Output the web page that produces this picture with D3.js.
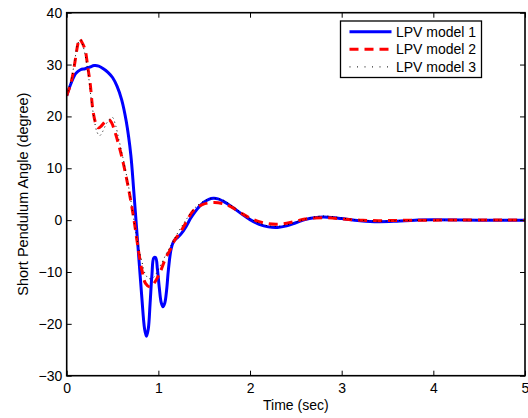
<!DOCTYPE html>
<html>
<head>
<meta charset="utf-8">
<script src="https://cdn.jsdelivr.net/npm/d3@7"></script>
<style>
  body { margin: 0; background: #fff; }
  text { font-family: "Liberation Sans", Arial, sans-serif; }
</style>
</head>
<body>
<svg id="chart" width="528" height="418"></svg>
<script>
// LPV model 1 (blue solid)
const time1 = [0, 0.05, 0.1, 0.15, 0.2, 0.25, 0.3, 0.35, 0.4, 0.45, 0.5, 0.55, 0.6, 0.65, 0.7, 0.73, 0.76, 0.79, 0.82, 0.85, 0.87, 0.89, 0.91, 0.93, 0.95, 0.97, 0.99, 1.01, 1.03, 1.05, 1.07, 1.09, 1.11, 1.14, 1.17, 1.2, 1.25, 1.3, 1.35, 1.4, 1.45, 1.5, 1.55, 1.6, 1.65, 1.7, 1.8, 1.9, 2.0, 2.1, 2.2, 2.3, 2.4, 2.5, 2.6, 2.7, 2.8, 2.9, 3.0, 3.2, 3.4, 3.6, 3.8, 4.0, 4.5, 5.0];
const lpv1 = [24, 26.5, 28.3, 29, 29.2, 29.5, 29.8, 29.7, 29.2, 28.5, 27.5, 25.8, 23.2, 19, 12.5, 6, -1, -8, -15, -21, -22.4, -21, -16, -10.5, -7.3, -7.2, -9.5, -13, -15.8, -16.7, -16, -13.5, -9.5, -5.5, -4, -3.5, -2.6, -1.3, 0.3, 1.6, 2.7, 3.5, 4.0, 4.2, 4.1, 3.7, 2.6, 1.3, 0.1, -0.8, -1.3, -1.4, -1.1, -0.5, 0.1, 0.45, 0.6, 0.5, 0.3, -0.1, -0.3, -0.2, 0, 0.05, 0, 0];

// LPV model 2 (red dashed)
const time2 = [0, 0.03, 0.06, 0.09, 0.12, 0.14, 0.16, 0.2, 0.23, 0.255, 0.29, 0.32, 0.345, 0.38, 0.42, 0.46, 0.49, 0.53, 0.6, 0.67, 0.73, 0.78, 0.82, 0.86, 0.91, 0.96, 1.02, 1.08, 1.13, 1.18, 1.24, 1.3, 1.38, 1.48, 1.6, 1.7, 1.8, 1.9, 2.0, 2.1, 2.2, 2.3, 2.4, 2.5, 2.6, 2.7, 2.8, 2.9, 3.0, 3.2, 3.4, 3.6, 4.0, 5.0];
const lpv2 = [24, 25.5, 27.5, 30.5, 33.8, 35, 34.5, 32.9, 29.5, 26.5, 20.7, 18.5, 17.8, 18.2, 19, 19.4, 18.8, 16.8, 12.3, 6.5, 0.5, -5.5, -9.6, -12.2, -12.9, -12, -10, -7.3, -5.7, -3.8, -2.3, -0.5, 1.8, 3, 3.4, 3.2, 2.5, 1.4, 0.4, -0.3, -0.7, -0.8, -0.6, -0.2, 0.2, 0.4, 0.45, 0.4, 0.25, 0, -0.1, -0.05, 0, 0];

// LPV model 3 (black dotted)
const time3 = [0, 0.03, 0.06, 0.09, 0.12, 0.15, 0.18, 0.21, 0.24, 0.27, 0.3, 0.33, 0.36, 0.39, 0.43, 0.47, 0.5, 0.53, 0.57, 0.62, 0.67, 0.72, 0.77, 0.82, 0.86, 0.9, 0.95, 1.0, 1.05, 1.1, 1.15, 1.2, 1.3, 1.4, 1.5, 1.6, 1.7, 1.8, 1.9, 2.0, 2.1, 2.2, 2.3, 2.4, 2.5, 2.6, 2.7, 2.8, 2.9, 3.0, 3.2, 3.4, 3.6, 4.0, 5.0];
const lpv3 = [24, 25.8, 28, 31, 34, 34.8, 33.5, 31, 27.5, 23, 19.5, 17, 16.3, 17, 18.5, 19.5, 19.8, 18.5, 15.5, 11.5, 7, 1.5, -4, -8, -10.5, -11.3, -11, -9.5, -7.8, -6, -4.5, -2.8, 0, 2.4, 3.7, 4.2, 3.9, 2.8, 1.5, 0.3, -0.6, -1.1, -1.2, -0.9, -0.4, 0.2, 0.6, 0.8, 0.7, 0.4, 0, -0.2, -0.1, 0, 0];

const xTicks = [0, 1, 2, 3, 4, 5];
const yTicks = [-30, -20, -10, 0, 10, 20, 30, 40];
const seriesNames = ["LPV model 1", "LPV model 2", "LPV model 3"];

const margin = { left: 66.7, right: 3, top: 12.7, bottom: 42.3 };
const W = 528, H = 418;
const svg = d3.select("#chart");

const x = d3.scaleLinear().domain([0, 5]).range([margin.left, W - margin.right]);
const y = d3.scaleLinear().domain([-30, 40]).range([H - margin.bottom, margin.top]);

svg.append("defs").append("clipPath").attr("id", "plot")
  .append("rect")
  .attr("x", x(0)).attr("y", y(40))
  .attr("width", x(5) - x(0)).attr("height", y(-30) - y(40));

const styles = [
  { color: "#0000ff", width: 3, dash: null },
  { color: "#ff0000", width: 3, dash: "9,6" },
  { color: "#000000", width: 1, dash: "1,3.5" }
];

const series = [
  time1.map((t, i) => [t, lpv1[i]]),
  time2.map((t, i) => [t, lpv2[i]]),
  time3.map((t, i) => [t, lpv3[i]])
];

const line = d3.line()
  .x(d => x(d[0]))
  .y(d => y(d[1]))
  .curve(d3.curveCatmullRom.alpha(0.5));

const plot = svg.append("g").attr("clip-path", "url(#plot)");
series.forEach((s, i) => {
  plot.append("path")
    .datum(s)
    .attr("d", line)
    .attr("fill", "none")
    .attr("stroke", styles[i].color)
    .attr("stroke-width", styles[i].width)
    .attr("stroke-dasharray", styles[i].dash);
});

// axes: labels outside, ticks pointing in, on all four sides
const tickLen = 5;
const font = "14px";

svg.append("g")
  .attr("transform", `translate(0,${y(-30)})`)
  .call(d3.axisBottom(x).tickValues(xTicks).tickSize(-tickLen).tickPadding(7.5).tickFormat(d3.format("d")))
  .call(g => g.select(".domain").remove());
svg.append("g")
  .attr("transform", `translate(0,${y(40)})`)
  .call(d3.axisTop(x).tickValues(xTicks).tickSize(-tickLen).tickFormat(""))
  .call(g => g.select(".domain").remove());
svg.append("g")
  .attr("transform", `translate(${x(0)},0)`)
  .call(d3.axisLeft(y).tickValues(yTicks).tickSize(-tickLen).tickPadding(4.5)
    .tickFormat(d => d < 0 ? "\u2212" + Math.abs(d) : d))
  .call(g => g.select(".domain").remove());
svg.append("g")
  .attr("transform", `translate(${x(5)},0)`)
  .call(d3.axisRight(y).tickValues(yTicks).tickSize(-tickLen).tickFormat(""))
  .call(g => g.select(".domain").remove());

svg.selectAll(".tick text")
  .attr("font-size", font)
  .attr("font-family", "Liberation Sans, Arial, sans-serif")
  .attr("fill", "#000");
svg.selectAll(".tick line").attr("stroke", "#000").attr("stroke-width", 1);

// box
svg.append("rect")
  .attr("x", x(0)).attr("y", y(40))
  .attr("width", x(5) - x(0)).attr("height", y(-30) - y(40))
  .attr("fill", "none")
  .attr("stroke", "#000")
  .attr("stroke-width", 1.6);

// axis titles
svg.append("text")
  .attr("x", (x(0) + x(5)) / 2).attr("y", 410)
  .attr("text-anchor", "middle")
  .attr("font-size", font)
  .text("Time (sec)");
svg.append("text")
  .attr("transform", `translate(27.5,${(y(40) + y(-30)) / 2}) rotate(-90)`)
  .attr("text-anchor", "middle")
  .attr("font-size", "14.5px")
  .text("Short Pendulum Angle (degree)");

// legend
const legend = svg.append("g").attr("transform", "translate(340.5,21)");
legend.append("rect")
  .attr("width", 141).attr("height", 56.5)
  .attr("fill", "#fff")
  .attr("stroke", "#000")
  .attr("stroke-width", 1.3);
seriesNames.forEach((name, i) => {
  const ly = 10.7 + i * 17.6;
  legend.append("line")
    .attr("x1", 9).attr("x2", 51)
    .attr("y1", ly).attr("y2", ly)
    .attr("stroke", styles[i].color)
    .attr("stroke-width", i === 2 ? 1 : styles[i].width)
    .attr("stroke-dasharray", i === 2 ? "1,6.5" : styles[i].dash);
  legend.append("text")
    .attr("x", 55.5).attr("y", ly + 5)
    .attr("font-size", font)
    .text(name);
});
</script>
</body>
</html>
